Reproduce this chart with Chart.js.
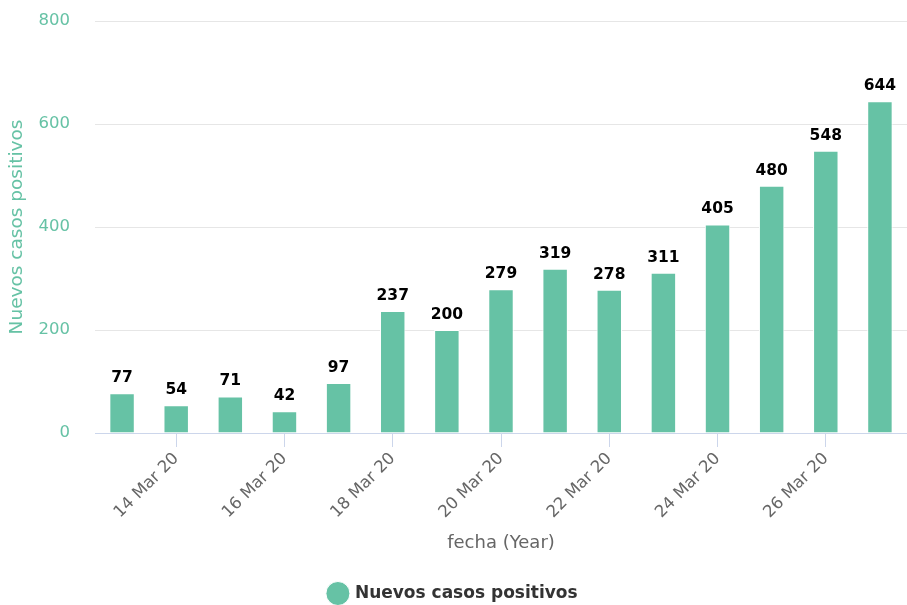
<!DOCTYPE html>
<html>
<head>
<meta charset="utf-8">
<script src="https://cdn.jsdelivr.net/npm/chart.js@4"></script>
<style>
  html, body { margin: 0; padding: 0; background: #fff; }
  #wrap { width: 907px; height: 605px; }
</style>
</head>
<body>
<div id="wrap"><canvas id="c"></canvas></div>
<script>
// 날짜 카테고리와 값 — 그림에서 읽은 그대로
const fechas = [
  '13 Mar 20', '14 Mar 20', '15 Mar 20', '16 Mar 20', '17 Mar 20',
  '18 Mar 20', '19 Mar 20', '20 Mar 20', '21 Mar 20', '22 Mar 20',
  '23 Mar 20', '24 Mar 20', '25 Mar 20', '26 Mar 20', '27 Mar 20',
];
const nuevosCasos = [77, 54, 71, 42, 97, 237, 200, 279, 319, 278, 311, 405, 480, 548, 644];
const yTicks = [0, 200, 400, 600, 800];

const FONT = "'DejaVu Sans', sans-serif";
const TEAL = '#66c2a5';

// 막대 위 값 라벨 (datalabels 플러그인 없이 직접)
const barLabels = {
  id: 'barLabels',
  afterDatasetsDraw(chart) {
    const { ctx } = chart;
    const meta = chart.getDatasetMeta(0);
    ctx.save();
    ctx.font = `bold 15.5px ${FONT}`;
    ctx.fillStyle = '#000';
    ctx.textAlign = 'center';
    ctx.textBaseline = 'alphabetic';
    meta.data.forEach((bar, i) => {
      ctx.fillText(String(nuevosCasos[i]), bar.x, bar.y - 11);
    });
    ctx.restore();
  },
};

new Chart(document.getElementById('c'), {
  type: 'bar',
  data: {
    labels: fechas,
    datasets: [{
      label: 'Nuevos casos positivos',
      data: nuevosCasos,
      backgroundColor: TEAL,
      borderColor: '#ffffff',
      borderWidth: 1,
      categoryPercentage: 1,
      barPercentage: 0.47,
    }],
  },
  options: {
    responsive: true, maintainAspectRatio: false, animation: false,
    layout: { padding: { top: 21, right: 0, bottom: -7, left: 0 } },
    plugins: {
      tooltip: { enabled: false },
      legend: {
        position: 'bottom',
        labels: {
          usePointStyle: true, pointStyle: 'circle', boxWidth: 18, boxHeight: 18, padding: 4,
          color: '#333', font: { family: FONT, size: 17, weight: 'bold' },
        },
      },
    },
    scales: {
      x: {
        afterFit(scale) { scale.height = 148; },
        grid: {
          offset: false, drawOnChartArea: false, drawTicks: true, tickLength: 14, color: '#ccd6eb',
        },
        border: { display: true, color: '#ccd6eb', width: 1 },
        ticks: {
          autoSkip: false, minRotation: 45, maxRotation: 45, padding: 2,
          color: '#666', font: { family: FONT, size: 16.5 },
          callback(value, index) { return index % 2 === 1 ? fechas[index] : null; },
        },
        title: {
          display: true, text: 'fecha (Year)', color: '#666',
          font: { family: FONT, size: 18 }, padding: { top: 0, bottom: 27 },
        },
      },
      y: {
        min: 0, max: 800,
        afterFit(scale) { scale.width = 95; },
        afterBuildTicks(scale) { scale.ticks = yTicks.map((v) => ({ value: v })); },
        // 눈금 간격은 투명 tick으로 — ticks.padding을 키우면 위쪽 여백까지 늘어남
        grid: { color: '#e6e6e6', drawTicks: true, tickLength: 25, tickColor: 'rgba(0,0,0,0)' },
        border: { display: false },
        ticks: { padding: 0, color: TEAL, font: { family: FONT, size: 16.5 } },
        title: {
          display: true, text: 'Nuevos casos positivos', color: TEAL,
          font: { family: FONT, size: 18.5 }, padding: { top: 6, bottom: 0 },
        },
      },
    },
  },
  plugins: [barLabels],
});
</script>
</body>
</html>
